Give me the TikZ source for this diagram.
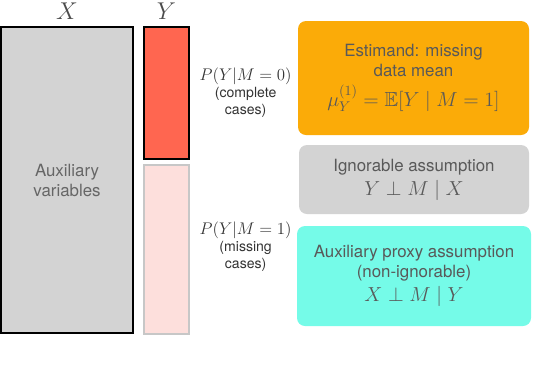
\documentclass[tikz,border=0pt]{standalone}
\usepackage{amssymb}
\usepackage{fontspec}
\setsansfont{TeX Gyre Heros}
\usepackage{tikz}
\usetikzlibrary{positioning}
\definecolor{auxgray}{RGB}{211,211,211}
\definecolor{tomato}{RGB}{255,102,80}
\definecolor{lightpink}{RGB}{253,223,220}
\definecolor{estorange}{RGB}{251,171,8}
\definecolor{proxycyan}{RGB}{117,251,232}
\colorlet{textgray}{black!65}

\begin{document}
\begin{tikzpicture}[every node/.style={font=\sffamily\fontsize{12}{14.2}\selectfont, align=center, text=textgray}]
            \useasboundingbox (0,0) rectangle (14,-9.2);

            % Data columns
            \node[draw=black, line width=1.4pt, fill=auxgray, minimum width=3.3cm, minimum height=7.65cm, text=black!60] (aux)
                at (1.675,-4.5) {Auxiliary\\variables};
            \node[draw=black, line width=1.4pt, fill=tomato, minimum width=1.125cm, minimum height=3.3cm] (complete)
                at (4.1625,-2.325) {};
            \node[draw=black!22, line width=1.4pt, fill=lightpink, minimum width=1.125cm, minimum height=4.225cm] (missing)
                at (4.1625,-6.2375) {};

            % Column headers
            \node[font=\fontsize{17}{20}\selectfont, text=black!70, above=0.05cm of aux] (Xlabel) {$X$};
            \node[font=\fontsize{17}{20}\selectfont, text=black!70, anchor=base] (Ylabel) at (4.1625,0 |- Xlabel.base) {$Y$};

            % Distributions
            \node[font=\sffamily\fontsize{10}{12}\selectfont, text=black!80, inner sep=1pt, right=0.2cm of complete] (pcomplete)
                {{\fontsize{11.5}{14}\selectfont$P(Y|M=0)$}\\(complete\\cases)};
            \node[font=\sffamily\fontsize{10}{12}\selectfont, text=black!80, inner sep=1pt, right=0.2cm of missing, yshift=0.08cm] (pmissing)
                {{\fontsize{11.5}{14}\selectfont$P(Y|M=1)$}\\(missing\\cases)};

            % Estimand and assumptions
            \node[fill=estorange, rounded corners=0.2cm, minimum width=5.775cm, minimum height=2.85cm] (estimand)
                at (10.3375,-1.95) {Estimand: missing\\data mean\\[5pt]{\fontsize{14.5}{17}\selectfont$\mu_Y^{(1)}=\mathbb{E}[Y\mid M=1]$}};
            \node[fill=auxgray, rounded corners=0.2cm, minimum width=5.75cm, minimum height=1.725cm] (ignorable)
                at (10.35,-4.4875) {Ignorable assumption\\[3pt]{\fontsize{14.5}{17}\selectfont$Y\perp M\mid X$}};
            \node[fill=proxycyan, rounded corners=0.2cm, minimum width=5.85cm, minimum height=2.5cm] (proxy)
                at (10.35,-6.9) {Auxiliary proxy assumption\\(non-ignorable)\\[3pt]{\fontsize{14.5}{17}\selectfont$X\perp M\mid Y$}};
        \end{tikzpicture}
\end{document}
